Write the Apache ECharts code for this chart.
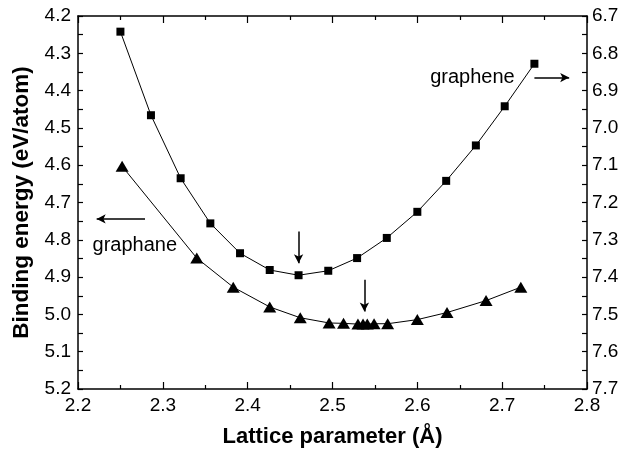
<!DOCTYPE html>
<html>
<head>
<meta charset="utf-8">
<script src="https://cdn.jsdelivr.net/npm/echarts@6/dist/echarts.min.js"></script>
<style>html,body{margin:0;padding:0;background:#fff}#c{width:624px;height:455px}</style>
</head>
<body>
<div id="c"></div>
<script>
// Data
const grapheneX = [2.250, 2.286, 2.321, 2.356, 2.391, 2.426, 2.460, 2.495, 2.529, 2.564, 2.600, 2.634, 2.669, 2.703, 2.738];
const grapheneE = [6.742, 6.966, 7.135, 7.256, 7.336, 7.381, 7.395, 7.383, 7.349, 7.295, 7.225, 7.142, 7.047, 6.942, 6.828];
const graphaneX = [2.252, 2.340, 2.383, 2.426, 2.462, 2.496, 2.513, 2.530, 2.536, 2.541, 2.549, 2.565, 2.600, 2.635, 2.681, 2.722];
const graphaneE = [4.603, 4.849, 4.927, 4.980, 5.009, 5.023, 5.024, 5.026, 5.026, 5.026, 5.025, 5.025, 5.014, 4.995, 4.963, 4.927];
const xTicks = [2.2, 2.3, 2.4, 2.5, 2.6, 2.7, 2.8];
const leftTicks = [4.2, 4.3, 4.4, 4.5, 4.6, 4.7, 4.8, 4.9, 5.0, 5.1, 5.2];
const rightTicks = [6.7, 6.8, 6.9, 7.0, 7.1, 7.2, 7.3, 7.4, 7.5, 7.6, 7.7];
// annotation positions (data coords)
const graphaneArrow = [[2.279, 4.744], [2.222, 4.744]];
const grapheneArrow = [[2.738, 6.865], [2.779, 6.865]];
const grapheneMinArrow = [[2.460, 7.278], [2.460, 7.363]];
const graphaneMinArrow = [[2.5376, 4.907], [2.5376, 4.992]];
const graphaneLabel = [2.267, 4.814];
const grapheneLabel = [2.665, 6.866];

const FONT = 'Liberation Sans, Arial, sans-serif';
const TICK_FS = 19;
const axisLineStyle = {color: '#000', width: 1.5};

function xAxisCfg(show, pos) {
  return {
    type: 'value', min: xTicks[0], max: xTicks[xTicks.length - 1], interval: 0.1, position: pos,
    axisLine: {show: true, onZero: false, lineStyle: axisLineStyle},
    axisTick: {show: true, inside: true, length: 7, lineStyle: {color: '#000', width: 1.2}},
    minorTick: {show: true, splitNumber: 2, length: 4, lineStyle: {color: '#000', width: 1.2}},
    splitLine: {show: false},
    axisLabel: {show: show, color: '#000', fontSize: TICK_FS, fontFamily: FONT, margin: 7,
      formatter: v => v.toFixed(1)}
  };
}

const option = {
  animation: false,
  grid: {left: 78, right: 37, top: 16, bottom: 66},
  xAxis: [
    Object.assign(xAxisCfg(true, 'bottom'), {
      name: 'Lattice parameter (Å)', nameLocation: 'middle', nameGap: 37,
      nameTextStyle: {fontSize: 22, fontWeight: 'bold', fontFamily: FONT, color: '#000'}
    }),
    xAxisCfg(false, 'top')
  ],
  yAxis: [
    {
      type: 'value', min: leftTicks[0], max: leftTicks[leftTicks.length - 1], interval: 0.1, inverse: true, position: 'left',
      name: 'Binding energy (eV/atom)', nameLocation: 'middle', nameGap: 45,
      nameTextStyle: {fontSize: 22.5, fontWeight: 'bold', fontFamily: FONT, color: '#000'},
      axisLine: {show: true, onZero: false, lineStyle: axisLineStyle},
      axisTick: {show: true, inside: true, length: 5, lineStyle: {color: '#000', width: 1.2}},
      minorTick: {show: true, splitNumber: 2, length: 5, lineStyle: {color: '#000', width: 1.2}},
      splitLine: {show: false},
      axisLabel: {color: '#000', fontSize: TICK_FS, fontFamily: FONT, margin: 7, formatter: v => v.toFixed(1)}
    },
    {
      type: 'value', min: rightTicks[0], max: rightTicks[rightTicks.length - 1], interval: 0.1, inverse: true, position: 'right',
      axisLine: {show: true, onZero: false, lineStyle: axisLineStyle},
      axisTick: {show: true, inside: true, length: 5, lineStyle: {color: '#000', width: 1.2}},
      minorTick: {show: true, splitNumber: 2, length: 5, lineStyle: {color: '#000', width: 1.2}},
      splitLine: {show: false},
      axisLabel: {color: '#000', fontSize: TICK_FS, fontFamily: FONT, margin: 5, formatter: v => v.toFixed(1)}
    }
  ],
  series: [
    {
      name: 'graphene', type: 'line', xAxisIndex: 0, yAxisIndex: 1,
      data: grapheneX.map((x, i) => [x, grapheneE[i]]),
      symbol: 'rect', symbolSize: 8,
      itemStyle: {color: '#000'}, lineStyle: {color: '#000', width: 1},
      markLine: {
        silent: true, symbol: ['none', 'arrow'], symbolSize: [7, 9],
        lineStyle: {color: '#000', width: 1.5, type: 'solid'}, label: {show: false},
        data: [
          [{coord: grapheneArrow[0]}, {coord: grapheneArrow[1]}],
          [{coord: grapheneMinArrow[0]}, {coord: grapheneMinArrow[1]}]
        ]
      },
      markPoint: {
        silent: true, symbol: 'circle', symbolSize: 0,
        label: {show: true, color: '#000', fontSize: 20, fontFamily: FONT, formatter: 'graphene'},
        data: [{coord: grapheneLabel}]
      }
    },
    {
      name: 'graphane', type: 'line', xAxisIndex: 0, yAxisIndex: 0,
      data: graphaneX.map((x, i) => [x, graphaneE[i]]),
      symbol: 'triangle', symbolSize: [13, 11],
      itemStyle: {color: '#000'}, lineStyle: {color: '#000', width: 1},
      markLine: {
        silent: true, symbol: ['none', 'arrow'], symbolSize: [7, 9],
        lineStyle: {color: '#000', width: 1.5, type: 'solid'}, label: {show: false},
        data: [
          [{coord: graphaneArrow[0]}, {coord: graphaneArrow[1]}],
          [{coord: graphaneMinArrow[0]}, {coord: graphaneMinArrow[1]}]
        ]
      },
      markPoint: {
        silent: true, symbol: 'circle', symbolSize: 0,
        label: {show: true, color: '#000', fontSize: 20, fontFamily: FONT, formatter: 'graphane'},
        data: [{coord: graphaneLabel}]
      }
    }
  ]
};
const chart = echarts.init(document.getElementById('c'), null, {renderer: 'canvas'});
chart.setOption(option);
</script>
</body>
</html>
